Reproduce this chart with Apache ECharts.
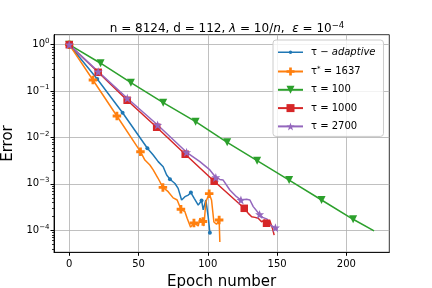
<!DOCTYPE html>
<html><head><meta charset="utf-8">
<script src="https://cdn.jsdelivr.net/npm/echarts@6/dist/echarts.min.js"></script>
<style>html,body{margin:0;padding:0;background:#fff}#c{width:432px;height:288px}</style>
</head><body><div id="c"></div>
<script>
// ---- data ----
const seriesNames = ['adaptive', 'star', 't100', 't1000', 't2700'];
const legendLabels = {
  adaptive: '{r|τ − }{i|adaptive}',
  star: '{r|τ}{s|*}{r| = 1637}',
  t100: '{r|τ = 100}',
  t1000: '{r|τ = 1000}',
  t2700: '{r|τ = 2700}'
};

const adaptiveX = [0, 20.2, 38.5, 56.4, 60.6, 64.2, 67.8, 70.3, 72.7, 76.3, 78.6, 81.1, 83.5, 85.9, 87.8, 90.2, 93.1, 95.5, 96.7, 98.6, 100.3, 101.5];
const adaptiveY = [1, 0.182, 0.0342, 0.00585, 0.0042, 0.00302, 0.00234, 0.00155, 0.00126, 0.00102, 8.0e-4, 4.5e-4, 5.3e-4, 5.75e-4, 6.5e-4, 4.9e-4, 3.5e-4, 4.4e-4, 2.75e-4, 4.5e-4, 1.95e-4, 8.9e-5];
const adaptiveMarks = [0, 1, 2, 3, 8, 14, 17, 21];

const starX = [0, 17.1, 34.4, 51.4, 54.6, 58.2, 60.6, 64.0, 67.6, 71.4, 75.0, 77.9, 80.6, 83.5, 85.1, 87.6, 90.0, 93.1, 94.3, 96.5, 97.2, 98.6, 101.0, 102.7, 104.4, 106.3, 108.2, 108.7];
const starY = [1, 0.173, 0.029, 0.00494, 0.00327, 0.00255, 0.002, 0.00134, 8.4e-4, 6.8e-4, 5.0e-4, 4.5e-4, 2.84e-4, 2.52e-4, 1.82e-4, 1.17e-4, 1.44e-4, 1.24e-4, 1.82e-4, 1.55e-4, 1.24e-4, 4.13e-4, 6.15e-4, 4.5e-4, 1.51e-4, 1.35e-4, 1.67e-4, 5.6e-5];
const starMarks = [0, 1, 2, 3, 8, 12, 16, 19, 22, 26];

const t100X = [0, 22.6, 44.5, 67.8, 91.2, 114, 135.6, 158.7, 182.1, 204.9, 220];
const t100Y = [1, 0.398, 0.152, 0.0562, 0.0219, 0.00787, 0.00316, 0.00121, 4.5e-4, 1.73e-4, 9.7e-5];
const t100Marks = [0, 1, 2, 3, 4, 5, 6, 7, 8, 9];

const t1000X = [0, 20.9, 41.8, 63.1, 83.7, 104.6, 126.3, 129.2, 131.7, 134.0, 136.4, 138.8, 141.2, 142.4, 144.8, 146.7, 147.9];
const t1000Y = [1, 0.254, 0.0634, 0.0166, 0.00435, 0.00114, 2.98e-4, 2.32e-4, 1.96e-4, 1.9e-4, 1.82e-4, 1.53e-4, 1.67e-4, 1.42e-4, 1.61e-4, 1.1e-4, 7.9e-5];
const t1000Marks = [0, 1, 2, 3, 4, 5, 6, 13];

const t2700X = [0, 20.9, 41.9, 63.8, 84.7, 94.3, 101.5, 105.8, 108.7, 111.1, 115.9, 120.7, 123.9, 128.0, 130.4, 132.8, 137.4, 139.6, 142.8, 144.5, 148.8, 150.4];
const t2700Y = [1, 0.262, 0.07, 0.0186, 0.0048, 0.00302, 0.002, 0.00138, 0.00125, 0.00121, 7.4e-4, 5.3e-4, 4.5e-4, 4.66e-4, 4.5e-4, 3.24e-4, 2.2e-4, 1.9e-4, 1.74e-4, 1.32e-4, 1.14e-4, 1.05e-4];
const t2700Marks = [0, 1, 2, 3, 4, 7, 12, 16, 20];

const xTicks = [0, 50, 100, 150, 200];
const yTicks = [1e-4, 1e-3, 1e-2, 1e-1, 1];
const yMinorTicks = [4e-5, 5e-5, 6e-5, 7e-5, 8e-5, 9e-5,
  2e-4, 3e-4, 4e-4, 5e-4, 6e-4, 7e-4, 8e-4, 9e-4,
  2e-3, 3e-3, 4e-3, 5e-3, 6e-3, 7e-3, 8e-3, 9e-3,
  2e-2, 3e-2, 4e-2, 5e-2, 6e-2, 7e-2, 8e-2, 9e-2,
  0.2, 0.3, 0.4, 0.5, 0.6, 0.7, 0.8, 0.9];

// ---- chart ----
const X_MIN = -11, X_MAX = 231, Y_MIN = 3.36e-5, Y_MAX = 1.64;
const FONT = 'DejaVu Sans';
const starPath = 'path://M0,-10L2.35,-3.24L9.51,-3.09L3.8,1.24L5.88,8.09L0,4L-5.88,8.09L-3.8,1.24L-9.51,-3.09L-2.35,-3.24Z';
const plusPath = 'path://M-1,-3L1,-3L1,-1L3,-1L3,1L1,1L1,3L-1,3L-1,1L-3,1L-3,-1L-1,-1Z';

function build(xs, ys, marks) {
  return xs.map((x, i) => marks.indexOf(i) >= 0 ? { value: [x, ys[i]] } : { value: [x, ys[i]], symbol: 'none' });
}
function lineSeries(name, color, xs, ys, marks, symbol, size, rotate) {
  return {
    name, type: 'line', data: build(xs, ys, marks), color,
    symbol, symbolSize: size, symbolRotate: rotate || 0, showSymbol: true,
    lineStyle: { width: 1.5, color }, itemStyle: { color },
    animation: false, silent: true, z: 3, yAxisIndex: 0
  };
}
function supLabel(v) {
  const e = Math.round(Math.log10(v));
  return '{b|10}{e|' + (e < 0 ? '−' + (-e) : e) + '}';
}
const blackLine = { show: true, onZero: false, lineStyle: { color: '#000', width: 0.8 } };

const chart = echarts.init(document.getElementById('c'), null, { renderer: 'canvas' });
chart.setOption({
  backgroundColor: '#fff',
  animation: false,
  title: {
    text: '{r|n = 8124, d = 112, }{i|λ}{r| = 10/}{i|n}{r|,  }{i|ε}{r| = 10}{s|−4}',
    left: 222, textAlign: 'center', top: 16,
    textStyle: {
      fontFamily: FONT, fontWeight: 'normal', fontSize: 12, color: '#000',
      rich: {
        r: { fontFamily: FONT, fontSize: 12, color: '#000', lineHeight: 16 },
        i: { fontFamily: FONT, fontSize: 12, color: '#000', fontStyle: 'italic', lineHeight: 16 },
        s: { fontFamily: FONT, fontSize: 8.5, color: '#000', verticalAlign: 'top', lineHeight: 9 }
      }
    }
  },
  grid: { left: 54, top: 34.7, width: 335.3, height: 217.6, show: true, borderColor: '#000', borderWidth: 0.8, backgroundColor: 'transparent', containLabel: false, outerBoundsMode: 'none' },
  legend: {
    orient: 'vertical', left: 273, top: 40,
    padding: [7.2, 8, 5, 4], itemWidth: 25, itemHeight: 10, itemGap: 8.3,
    borderColor: '#cccccc', borderWidth: 1, borderRadius: 3,
    backgroundColor: 'rgba(255,255,255,0.8)',
    selectedMode: false,
    data: [
      { name: 'adaptive', icon: 'path://M0,0L0,0Z M0,10L0,10Z M0,4.3L25,4.3L25,5.7L0,5.7Z M12.5,3.2L13.8,3.7L14.3,5L13.8,6.3L12.5,6.8L11.2,6.3L10.7,5L11.2,3.7Z' },
      'star', 't100', 't1000', 't2700'
    ],
    formatter: name => legendLabels[name],
    textStyle: {
      fontFamily: FONT, fontSize: 10, color: '#000', padding: [0, 0, 0, 3],
      rich: {
        r: { fontFamily: FONT, fontSize: 10, color: '#000', lineHeight: 12 },
        i: { fontFamily: FONT, fontSize: 10, color: '#000', fontStyle: 'italic', lineHeight: 12 },
        s: { fontFamily: FONT, fontSize: 7, color: '#000', verticalAlign: 'top', lineHeight: 7 }
      }
    }
  },
  xAxis: {
    type: 'value', min: X_MIN, max: X_MAX, position: 'bottom',
    axisLine: blackLine,
    axisTick: { show: true, inside: false, length: 3.5, lineStyle: { color: '#000', width: 1 }, customValues: xTicks },
    axisLabel: { customValues: xTicks, margin: 7, fontSize: 10, color: '#000', fontFamily: FONT },
    splitLine: { show: true, lineStyle: { color: '#b0b0b0', width: 0.8 } },
    name: 'Epoch number', nameLocation: 'middle', nameGap: 22,
    nameTextStyle: { fontSize: 15, color: '#000', fontFamily: FONT }
  },
  yAxis: [{
    type: 'log', logBase: 10, min: Y_MIN, max: Y_MAX, position: 'left',
    axisLine: blackLine,
    axisTick: { show: true, inside: false, length: 3.5, lineStyle: { color: '#000', width: 1 }, customValues: yTicks },
    axisLabel: {
      customValues: yTicks, margin: 4.5, color: '#000', fontFamily: FONT, fontSize: 10,
      formatter: supLabel,
      rich: {
        b: { fontFamily: FONT, fontSize: 10, color: '#000', lineHeight: 14 },
        e: { fontFamily: FONT, fontSize: 7, color: '#000', verticalAlign: 'top', lineHeight: 7 }
      }
    },
    splitLine: { show: true, lineStyle: { color: '#b0b0b0', width: 0.8 } },
    name: 'Error', nameLocation: 'middle', nameGap: 36,
    nameTextStyle: { fontSize: 15, color: '#000', fontFamily: FONT }
  }, {
    type: 'log', logBase: 10, min: Y_MIN, max: Y_MAX, position: 'left', offset: 0,
    axisLine: blackLine,
    axisTick: { show: true, inside: false, length: 2, lineStyle: { color: '#000', width: 0.8 }, customValues: yMinorTicks },
    axisLabel: { show: false },
    splitLine: { show: false }
  }],
  series: [
    lineSeries('adaptive', '#1f77b4', adaptiveX, adaptiveY, adaptiveMarks, 'circle', 4),
    lineSeries('star', '#ff7f0e', starX, starY, starMarks, plusPath, 8.5),
    lineSeries('t100', '#2ca02c', t100X, t100Y, t100Marks, 'triangle', 8, 180),
    lineSeries('t1000', '#d62728', t1000X, t1000Y, t1000Marks, 'rect', 7.5),
    lineSeries('t2700', '#9467bd', t2700X, t2700Y, t2700Marks, starPath, 9)
  ]
});
</script></body></html>
